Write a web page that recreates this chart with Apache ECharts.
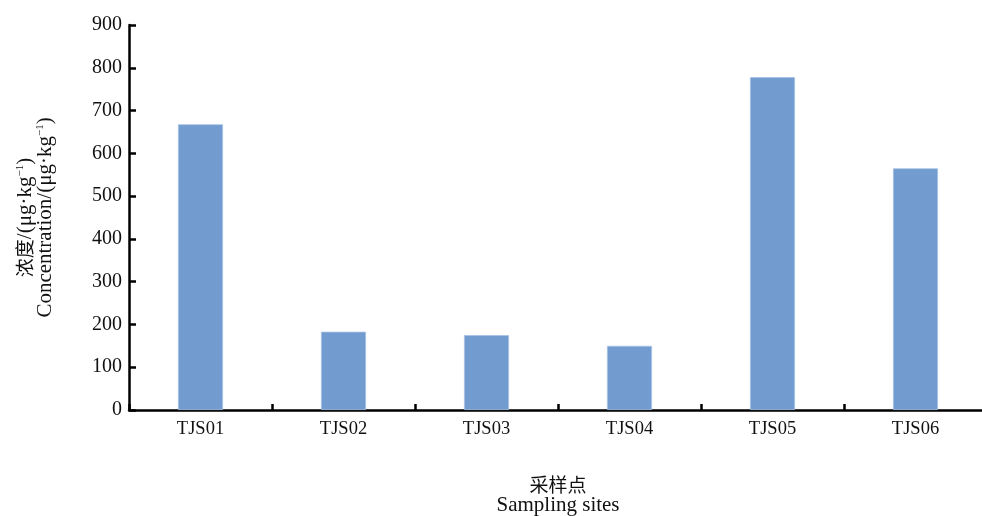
<!DOCTYPE html>
<html>
<head>
<meta charset="utf-8">
<script src="https://cdn.jsdelivr.net/npm/echarts@6/dist/echarts.min.js"></script>
<style>
  html, body { margin: 0; padding: 0; background: #fff; }
  #chart { width: 982px; height: 516px; }
</style>
</head>
<body>
<div id="chart"></div>
<script>
// Sampling sites and measured concentrations (μg·kg⁻¹)
const sites = ['TJS01', 'TJS02', 'TJS03', 'TJS04', 'TJS05', 'TJS06'];
const concentration = [668, 183, 175, 150, 778, 565];
const yTicks = { min: 0, max: 900, interval: 100 };

const serif = '"Liberation Serif", "Times New Roman", serif';
const cjk = '"Noto Sans CJK SC", sans-serif';

const chart = echarts.init(document.getElementById('chart'), null, { renderer: 'canvas' });

chart.setOption({
  backgroundColor: '#ffffff',
  animation: false,
  grid: { left: 129, top: 25, width: 858, bottom: 106, containLabel: false, outerBoundsMode: 'none' },
  xAxis: {
    type: 'category',
    data: sites,
    name: '{cn|采样点}\n{en|Sampling sites}',
    nameLocation: 'middle',
    nameGap: 64,
    nameTextStyle: {
      rich: {
        cn: { fontFamily: cjk, fontSize: 19, color: '#111', lineHeight: 21 },
        en: { fontFamily: serif, fontSize: 21, color: '#111', lineHeight: 21 }
      }
    },
    axisLine: { show: true, lineStyle: { color: '#000', width: 2.5 } },
    axisTick: { show: true, inside: true, length: 6, alignWithLabel: false, lineStyle: { color: '#000', width: 2.5 } },
    axisLabel: { fontFamily: serif, fontSize: 18.5, color: '#111', margin: 10 },
    splitLine: { show: false }
  },
  yAxis: {
    type: 'value',
    min: yTicks.min,
    max: yTicks.max,
    interval: yTicks.interval,
    name: '{cn|浓度}{en|/(μg·kg}{sup|−1}{en|)}\n{en|Concentration/(μg·kg}{sup|−1}{en|)}',
    nameLocation: 'middle',
    nameRotate: 90,
    nameGap: 74,
    nameTextStyle: {
      rich: {
        cn: { fontFamily: cjk, fontSize: 19, color: '#111', lineHeight: 20 },
        en: { fontFamily: serif, fontSize: 21, color: '#111', lineHeight: 20 },
        sup: { fontFamily: serif, fontSize: 11, color: '#111', verticalAlign: 'top', lineHeight: 20 }
      }
    },
    axisLine: { show: true, lineStyle: { color: '#000', width: 2.5 } },
    axisTick: { show: true, inside: true, length: 7, lineStyle: { color: '#000', width: 2.5 } },
    axisLabel: { fontFamily: serif, fontSize: 20, color: '#111', margin: 7 },
    splitLine: { show: false }
  },
  series: [{
    type: 'bar',
    data: concentration,
    barWidth: '31.5%',
    itemStyle: { color: '#729bd0', borderColor: '#a6c2e6', borderWidth: 0.8 }
  }]
});
</script>
</body>
</html>
